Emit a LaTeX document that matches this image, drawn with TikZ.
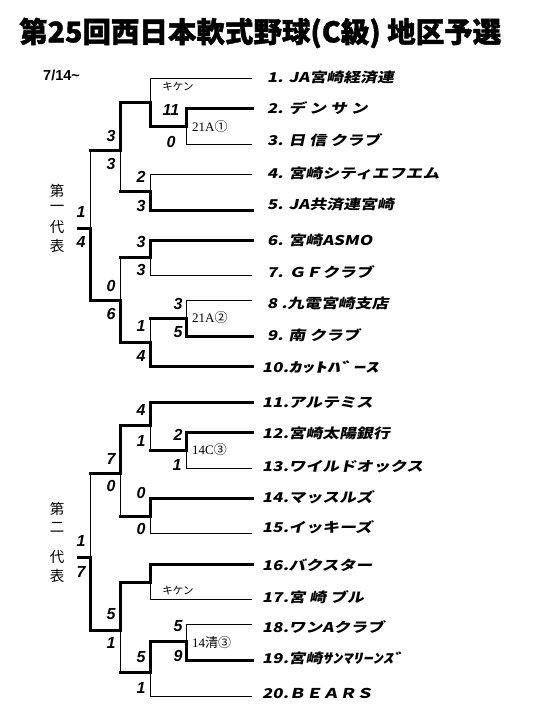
\documentclass[tikz,border=0pt]{standalone}
\usepackage{fontspec}
\usepackage{tikz}
\usetikzlibrary{calc}

\newfontfamily\jpfont{Noto Sans CJK JP}
\newfontfamily\titlefont[FakeBold=1.4]{Noto Sans CJK JP}
\newfontfamily\teamfont[FakeSlant=0.2,FakeStretch=1.25]{Noto Sans CJK JP}
\newfontfamily\widekana[FakeSlant=0.2,FakeStretch=1.9]{Noto Sans CJK JP}
\newfontfamily\halfkana[FakeSlant=0.2,FakeStretch=1.5]{Noto Sans CJK JP}
\newfontfamily\scorefont{Liberation Sans}
\newfontfamily\notefont{Liberation Serif}

\begin{document}
\begin{tikzpicture}[
    x=1pt, y=-1pt,
    win/.style={line width=3pt, line cap=rect, line join=miter},
    lose/.style={line width=1pt},
    team/.style={anchor=west, inner sep=0pt, font=\teamfont\bfseries\fontsize{13.5}{14}\selectfont},
    score/.style={inner sep=0pt, font=\scorefont\bfseries\itshape\fontsize{16}{16}\selectfont},
    note/.style={anchor=west, inner sep=0pt, font=\notefont\fontsize{13}{13}\selectfont},
    kiken/.style={inner sep=0pt, font=\jpfont\fontsize{10.5}{11}\selectfont},
    rep/.style={inner sep=0pt, font=\jpfont\fontsize{14.5}{15}\selectfont}
]
\useasboundingbox (0,0) rectangle (540,720);

\node[anchor=west, inner sep=0pt, font=\titlefont\bfseries\fontsize{28.5}{28.5}\selectfont] (ttl) at (19,33) {第25回西日本軟式野球(C級) 地区予選};
\node[anchor=west, inner sep=0pt, font=\scorefont\bfseries\fontsize{14.5}{14.5}\selectfont] (date) at (43,75) {7/14\textasciitilde};

% team line ends
\coordinate (e1) at (252,78.3);
\coordinate (e2) at (252,108.3);
\coordinate (e3) at (252,144);
\coordinate (e4) at (252,174.3);
\coordinate (e5) at (252,210);
\coordinate (e6) at (252,240);
\coordinate (e7) at (252,275.7);
\coordinate (e8) at (252,300.7);
\coordinate (e9) at (252,336);
\coordinate (e10) at (252,366);
\coordinate (e11) at (252,402.3);
\coordinate (e12) at (252,432.3);
\coordinate (e13) at (252,468.3);
\coordinate (e14) at (252,498.3);
\coordinate (e15) at (252,533.3);
\coordinate (e16) at (252,564.3);
\coordinate (e17) at (252,599.3);
\coordinate (e18) at (252,624);
\coordinate (e19) at (252,660);
\coordinate (e20) at (252,696.7);

% match junctions
\coordinate (a1) at (186,126);
\coordinate (a2) at (150,102.7);
\coordinate (a3) at (150,191.7);
\coordinate (a4) at (120,150);
\coordinate (b1) at (150,257.7);
\coordinate (b2) at (186,318.3);
\coordinate (b3) at (150,342);
\coordinate (b4) at (120,300);
\coordinate (f1) at (90,228.3);
\coordinate (w1) at (78,228.3);
\coordinate (c1) at (186,450);
\coordinate (c2) at (150,425.7);
\coordinate (c3) at (150,516);
\coordinate (c4) at (120,473.3);
\coordinate (d1) at (150,582.3);
\coordinate (d2) at (186,641.7);
\coordinate (d3) at (150,672.3);
\coordinate (d4) at (120,630);
\coordinate (f2) at (90,557.3);
\coordinate (w2) at (78,557.3);

% first representative
\draw[win] (e2) -| (a1);
\draw[lose] (e3) -| (a1);
\draw[lose] (e1) -| (a2);
\draw[win] (a1) -| (a2);
\draw[lose] (e4) -| (a3);
\draw[win] (e5) -| (a3);
\draw[win] (a2) -| (a4);
\draw[win] (a3) -- (a3 -| a4);
\draw[lose] (a3 -| a4) -- (a4);
\draw[win] (e6) -| (b1);
\draw[lose] (e7) -| (b1);
\draw[lose] (e8) -| (b2);
\draw[win] (e9) -| (b2);
\draw[win] (b2) -- (b2 -| b3);
\draw[lose] (b2 -| b3) -- (b3);
\draw[win] (e10) -| (b3);
\draw[win] (b1) -- (b1 -| b4);
\draw[lose] (b1 -| b4) -- (b4);
\draw[win] (b3) -| (b4);
\draw[win] (a4) -- (a4 -| f1);
\draw[lose] (a4 -| f1) -- (f1);
\draw[win] (b4) -| (f1);
\draw[win] (f1) -- (w1);

% second representative
\draw[win] (e12) -| (c1);
\draw[lose] (e13) -| (c1);
\draw[win] (e11) -| (c2);
\draw[win] (c1) -- (c1 -| c2);
\draw[lose] (c1 -| c2) -- (c2);
\draw[win] (e14) -| (c3);
\draw[lose] (e15) -| (c3);
\draw[win] (c2) -| (c4);
\draw[win] (c3) -- (c3 -| c4);
\draw[lose] (c3 -| c4) -- (c4);
\draw[win] (e16) -| (d1);
\draw[lose] (e17) -| (d1);
\draw[lose] (e18) -| (d2);
\draw[win] (e19) -| (d2);
\draw[win] (d2) -| (d3);
\draw[lose] (e20) -| (d3);
\draw[win] (d1) -| (d4);
\draw[win] (d3) -- (d3 -| d4);
\draw[lose] (d3 -| d4) -- (d4);
\draw[win] (c4) -- (c4 -| f2);
\draw[lose] (c4 -| f2) -- (f2);
\draw[win] (d4) -| (f2);
\draw[win] (f2) -- (w2);

% teams
\node[team] (t1) at (267,77) {1. JA宮崎経済連};
\node[team] (t2) at (267,108) {2. デ ン サ ン};
\node[team] (t3) at (267,140) {3. 日 信 クラブ};
\node[team] (t4) at (267,173) {4. 宮崎シティエフエム};
\node[team] (t5) at (267,204) {5. JA共済連宮崎};
\node[team] (t6) at (267,240) {6. 宮崎ASMO};
\node[team] (t7) at (267,272) {7. ＧＦクラブ};
\node[team] (t8) at (267,303) {8 .九電宮崎支店};
\node[team] (t9) at (267,335) {9. 南 クラブ};
\node[team] (t10) at (262,367) {10.{\widekana ｶｯﾄﾊﾞｰｽ}};
\node[team] (t11) at (262,403) {11.アルテミス};
\node[team] (t12) at (262,433) {12.宮崎太陽銀行};
\node[team] (t13) at (262,467) {13.ワイルドオックス};
\node[team] (t14) at (262,497) {14.マッスルズ};
\node[team] (t15) at (262,527) {15.イッキーズ};
\node[team] (t16) at (262,565) {16.バクスター};
\node[team] (t17) at (262,597) {17.宮 崎 ブル};
\node[team] (t18) at (262,627) {18.ワンAクラブ};
\node[team] (t19) at (262,658) {19.宮崎{\halfkana ｻﾝﾏﾘｰﾝｽﾞ}};
\node[team] (t20) at (262,693) {20.ＢＥＡＲＳ};

% scores
\node[score] (sa1u) at (171,110) {11};
\node[score] (sa1d) at (171,142) {0};
\node[kiken] (ka2) at (178,87) {キケン};
\node[score] (sa3u) at (141,177) {2};
\node[score] (sa3d) at (141,206) {3};
\node[score] (sa4u) at (111,136) {3};
\node[score] (sa4d) at (111,164) {3};
\node[score] (sb1u) at (141,242) {3};
\node[score] (sb1d) at (141,270) {3};
\node[score] (sb2u) at (178,304) {3};
\node[score] (sb2d) at (178,332) {5};
\node[score] (sb3u) at (141,326) {1};
\node[score] (sb3d) at (141,356) {4};
\node[score] (sb4u) at (111,286) {0};
\node[score] (sb4d) at (111,314) {6};
\node[score] (sf1u) at (81,212) {1};
\node[score] (sf1d) at (81,242) {4};
\node[score] (sc1u) at (178,435) {2};
\node[score] (sc1d) at (177,465) {1};
\node[score] (sc2u) at (141,410) {4};
\node[score] (sc2d) at (141,441) {1};
\node[score] (sc3u) at (141,493) {0};
\node[score] (sc3d) at (141,529) {0};
\node[score] (sc4u) at (111,459) {7};
\node[score] (sc4d) at (111,486) {0};
\node[kiken] (kd1) at (178,591) {キケン};
\node[score] (sd2u) at (178,626) {5};
\node[score] (sd2d) at (178,656) {9};
\node[score] (sd3u) at (141,657) {5};
\node[score] (sd3d) at (141,688) {1};
\node[score] (sd4u) at (111,614) {5};
\node[score] (sd4d) at (111,643) {1};
\node[score] (sf2u) at (81,541) {1};
\node[score] (sf2d) at (81,572) {7};

% game notes
\node[note] (na1) at (192,127) {21A{\jpfont ①}};
\node[note] (nb2) at (192,318) {21A{\jpfont ②}};
\node[note] (nc1) at (192,450) {14C{\jpfont ③}};
\node[note] (nd2) at (192,643) {14{\jpfont 清③}};

% representatives
\node[rep] (r1a) at (57,191) {第};
\node[rep] (r1b) at (57,208) {一};
\node[rep] (r1c) at (57,227) {代};
\node[rep] (r1d) at (57,246) {表};
\node[rep] (r2a) at (57,509) {第};
\node[rep] (r2b) at (57,527) {二};
\node[rep] (r2c) at (57,557) {代};
\node[rep] (r2d) at (57,576) {表};
\end{tikzpicture}
\end{document}
